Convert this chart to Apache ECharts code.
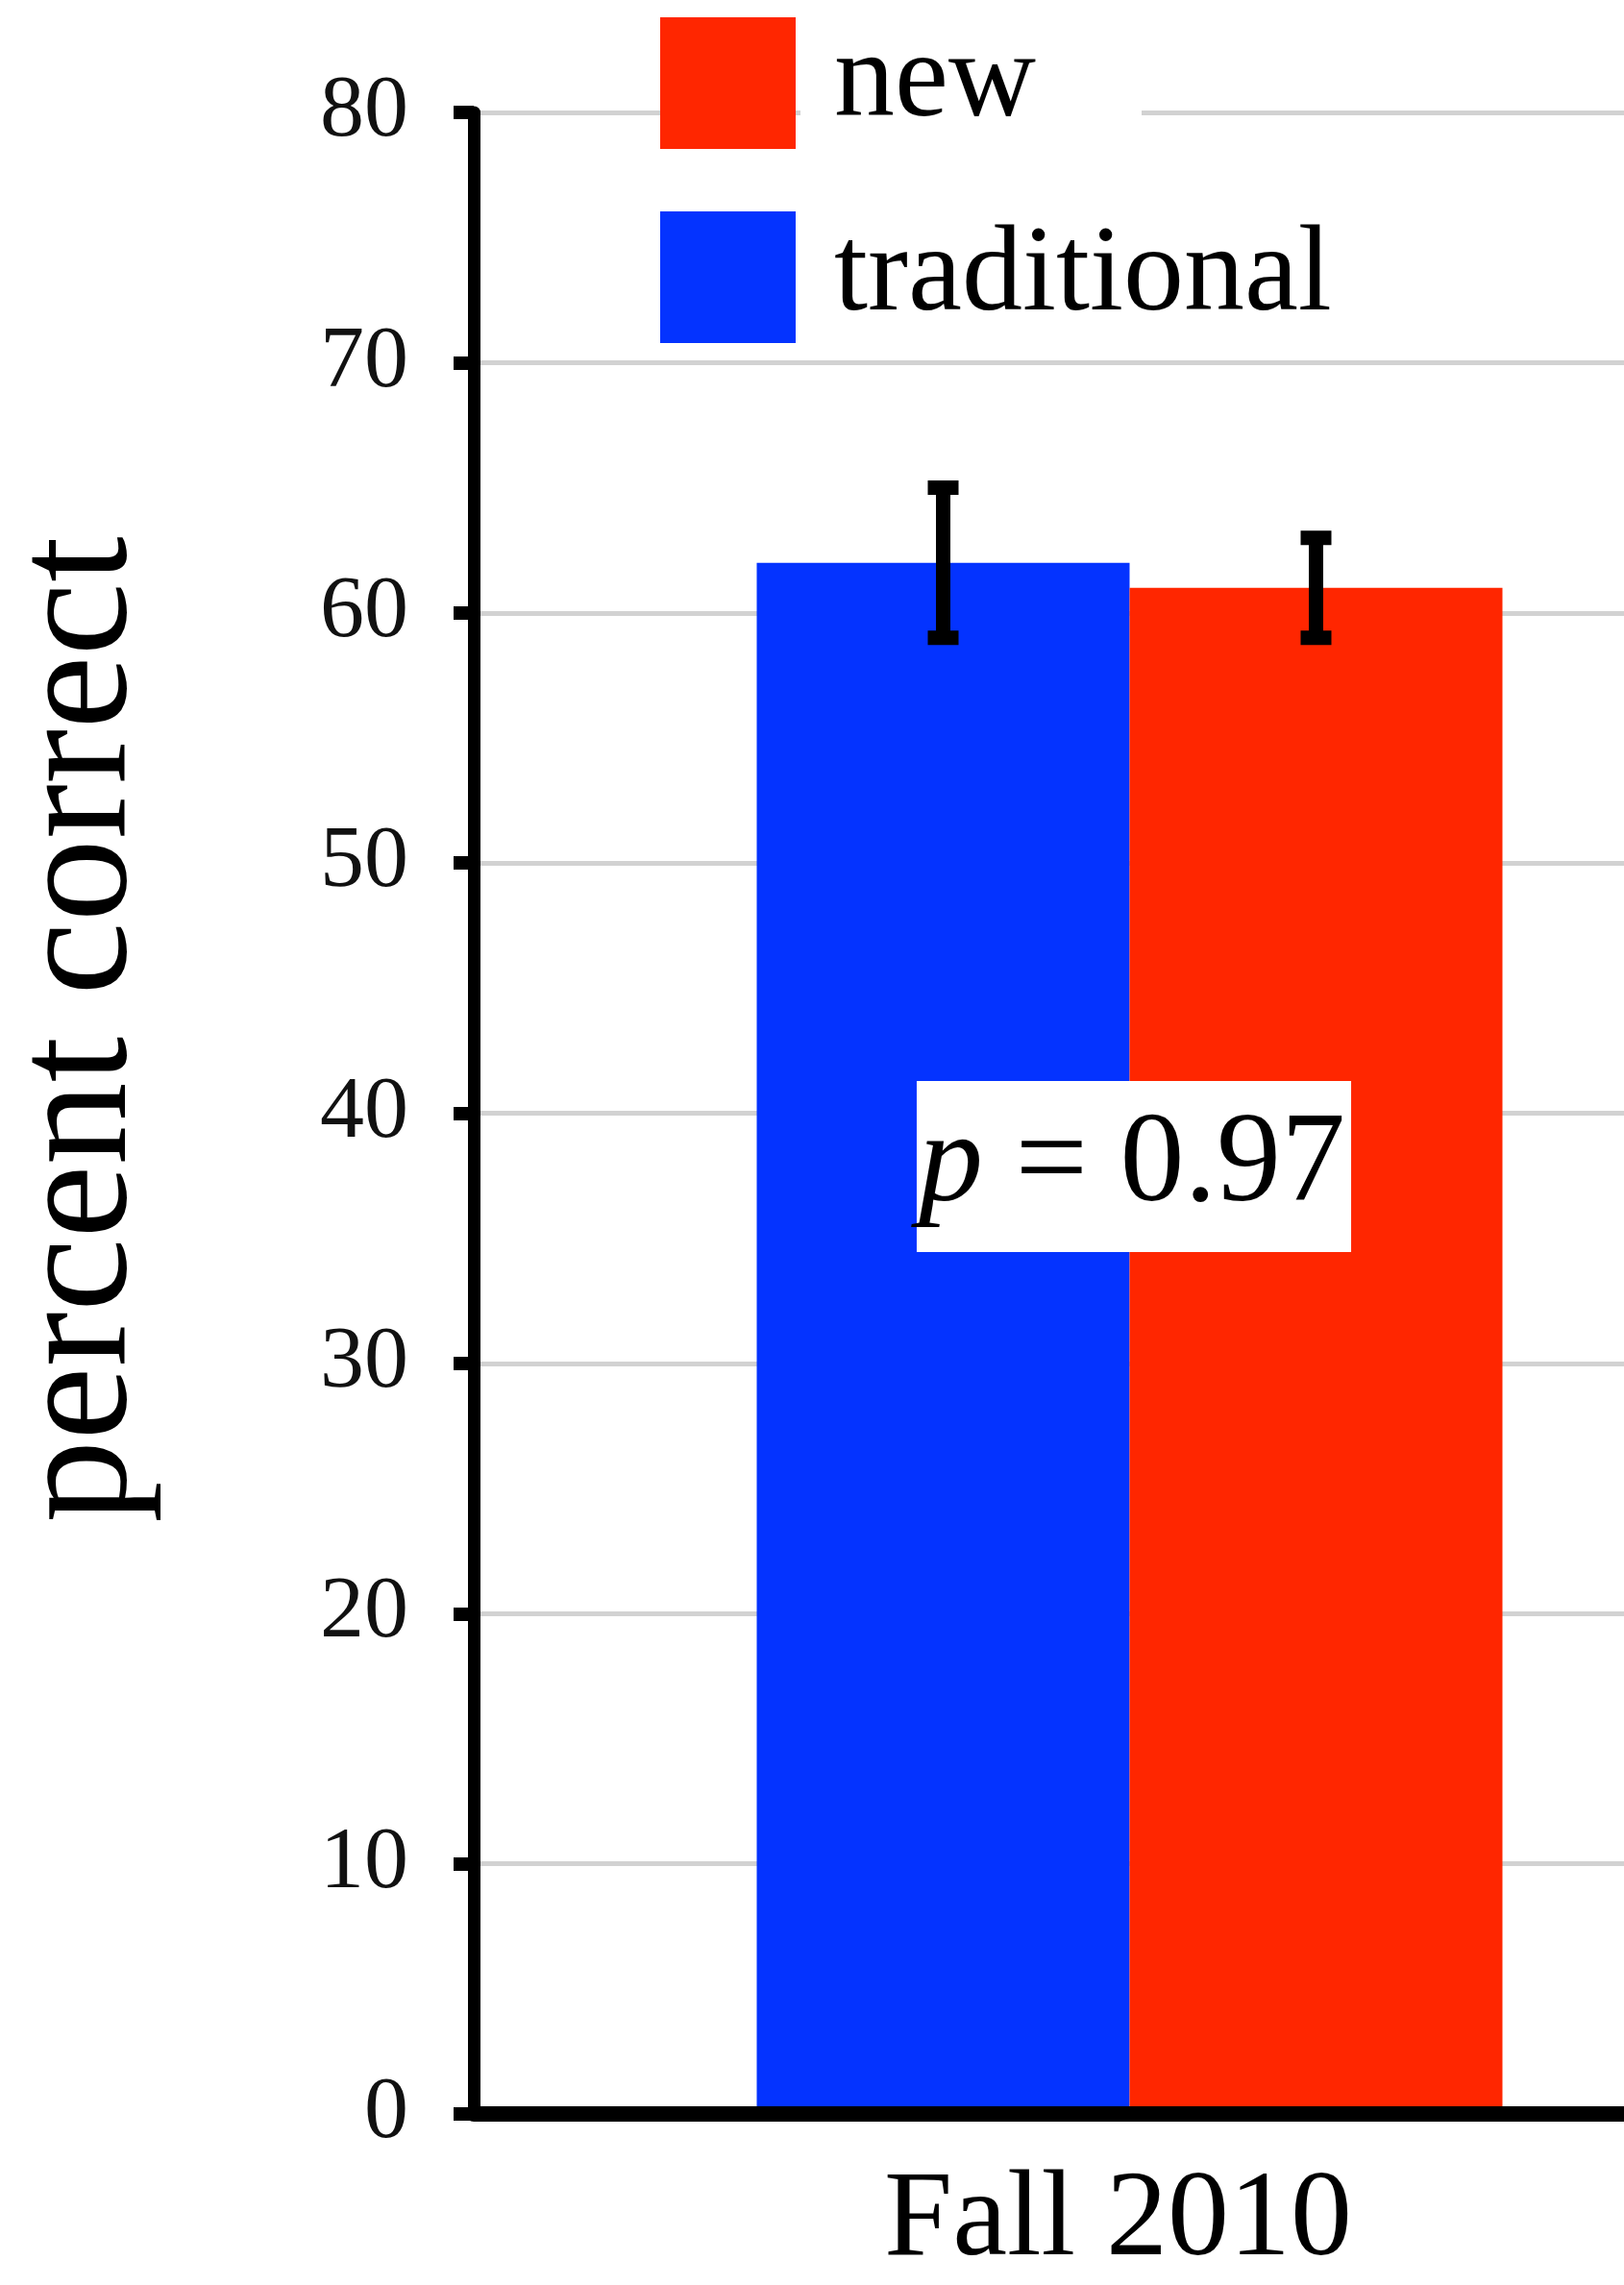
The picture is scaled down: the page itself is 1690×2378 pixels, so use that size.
<!DOCTYPE html>
<html><head><meta charset="utf-8">
<script src="https://cdn.jsdelivr.net/npm/echarts@6/dist/echarts.min.js"></script>
<style>html,body{margin:0;padding:0;background:#fff}#c{width:1690px;height:2378px}</style>
</head><body><div id="c"></div>
<script>
const categories = ['Fall 2010'];
const seriesNames = ['traditional', 'new'];
const traditionalValues = [62];
const newValues = [61];
const traditionalErr = [3];
const newErr = [2];
const yTicks = [0, 10, 20, 30, 40, 50, 60, 70, 80];
const legendOrder = ['new', 'traditional'];
const pText = 'p = 0.97';

const BLUE = '#0433FF', RED = '#FF2600';
const SERIF = 'Liberation Serif, Times New Roman, Tinos, Times, serif';
const BAR_W = 388;

function errSeries(values, errs, sign) {
  return {
    type: 'custom',
    z: 6,
    data: values.map((v, i) => [i, v - errs[i], v + errs[i]]),
    renderItem: function (params, api) {
      const lo = api.coord([api.value(0), api.value(1)]);
      const hi = api.coord([api.value(0), api.value(2)]);
      const x = lo[0] + sign * BAR_W / 2;
      const cw = 16;
      const st = { stroke: '#000', lineWidth: 15 };
      return {
        type: 'group',
        children: [
          { type: 'line', shape: { x1: x, y1: lo[1], x2: x, y2: hi[1] }, style: { stroke: '#000', lineWidth: 15 } },
          { type: 'line', shape: { x1: x - cw, y1: lo[1], x2: x + cw, y2: lo[1] }, style: st },
          { type: 'line', shape: { x1: x - cw, y1: hi[1], x2: x + cw, y2: hi[1] }, style: st }
        ]
      };
    }
  };
}

const chart = echarts.init(document.getElementById('c'), null, { renderer: 'canvas' });
chart.setOption({
  backgroundColor: '#fff',
  animation: false,
  grid: { left: 493, top: 117, width: 1365, bottom: 178, containLabel: false, outerBoundsMode: 'none' },
  legend: {
    data: legendOrder,
    orient: 'vertical',
    left: 687, top: 18,
    padding: 0,
    itemWidth: 141, itemHeight: 137, itemGap: 65,
    icon: 'rect',
    z: 10,
    textStyle: {
      fontFamily: SERIF, fontSize: 126, color: '#000',
      rich: {
        a: { fontFamily: SERIF, fontSize: 126, color: '#000', backgroundColor: '#fff', width: 320, height: 137, padding: [0, 0, 0, 35] },
        b: { fontFamily: SERIF, fontSize: 126, color: '#000', padding: [0, 0, 0, 35] }
      }
    },
    formatter: function (n) { return n === 'new' ? '{a|' + n + '}' : '{b|' + n + '}'; }
  },
  xAxis: {
    type: 'category',
    data: categories,
    z: 5,
    axisLine: { show: true, lineStyle: { color: '#000', width: 16 } },
    axisTick: { show: false },
    axisLabel: { fontFamily: SERIF, fontSize: 128, color: '#000', margin: 48, padding: [0, 24, 0, 0] },
    splitLine: { show: false }
  },
  yAxis: {
    type: 'value',
    min: yTicks[0], max: yTicks[yTicks.length - 1], interval: 10,
    name: 'percent correct',
    nameLocation: 'middle',
    nameGap: 322,
    nameRotate: 90,
    nameTextStyle: { fontFamily: SERIF, fontSize: 172, color: '#000', padding: [0, 0, 0, 174] },
    axisLine: { show: true, lineStyle: { color: '#000', width: 13 } },
    axisTick: { show: true, length: 21, lineStyle: { color: '#000', width: 14 } },
    axisLabel: { fontFamily: SERIF, fontSize: 92, color: '#111', margin: 68 },
    splitLine: { show: true, lineStyle: { color: '#d2d2d2', width: 5 } }
  },
  series: [
    { name: 'traditional', type: 'bar', data: traditionalValues, barWidth: BAR_W, barGap: '0%', itemStyle: { color: BLUE }, z: 2 },
    { name: 'new', type: 'bar', data: newValues, barWidth: BAR_W, barGap: '0%', itemStyle: { color: RED }, z: 2 },
    errSeries(traditionalValues, traditionalErr, -1),
    errSeries(newValues, newErr, 1)
  ],
  graphic: [{
    type: 'text',
    x: 1180, y: 1214, z: 20,
    style: {
      text: '{i|p} = 0.97',
      align: 'center', verticalAlign: 'middle',
      fontFamily: SERIF, fontSize: 134, fill: '#000',
      backgroundColor: '#fff',
      padding: [22, 6, 22, 2],
      rich: { i: { fontFamily: SERIF, fontSize: 134, fontStyle: 'italic', fill: '#000' } }
    }
  }]
});
</script></body></html>
